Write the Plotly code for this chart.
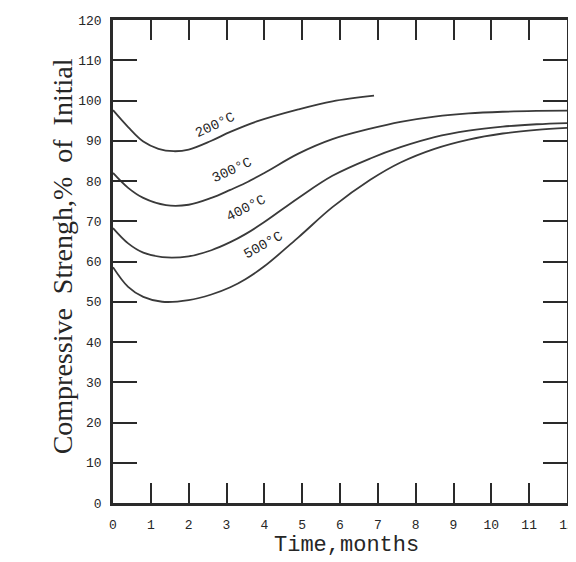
import plotly.graph_objects as go

# ---- data ----
t200 = [0, 0.4, 0.8, 1.2, 1.6, 2.0, 2.6, 3.1, 3.8, 4.9, 5.8, 6.9]
s200 = [97.6, 93.4, 89.8, 88.0, 87.4, 87.8, 90.0, 92.2, 94.8, 97.8, 99.8, 101.2]

t300 = [0, 0.4, 0.8, 1.4, 2.0, 2.6, 3.1, 3.5, 4.0, 4.9, 5.8, 6.8, 7.6, 8.5, 9.4, 10.3, 11.2, 12]
s300 = [82.0, 78.3, 75.8, 74.0, 74.1, 75.8, 77.8, 79.5, 82.0, 86.8, 90.4, 93.0, 94.7, 96.0, 96.8, 97.2, 97.4, 97.5]

t400 = [0, 0.4, 0.8, 1.3, 2.0, 2.6, 3.1, 3.5, 4.0, 4.9, 5.8, 6.8, 7.6, 8.5, 9.4, 10.3, 11.2, 12]
s400 = [68.3, 64.5, 62.2, 61.1, 61.3, 62.8, 64.8, 66.8, 69.8, 75.8, 81.3, 85.6, 88.4, 90.9, 92.5, 93.5, 94.1, 94.4]

t500 = [0, 0.4, 0.8, 1.3, 2.0, 2.6, 3.1, 3.5, 4.0, 4.9, 5.8, 6.8, 7.6, 8.5, 9.4, 10.3, 11.2, 12]
s500 = [58.6, 53.7, 51.2, 50.0, 50.4, 51.8, 53.6, 55.6, 58.8, 66.0, 73.5, 80.3, 84.6, 88.0, 90.3, 91.8, 92.7, 93.2]

series_names = ["200°C", "300°C", "400°C", "500°C"]
label_x = [2.70, 3.15, 3.52, 3.97]
label_y = [93.9, 82.7, 73.2, 64.2]
label_angle = [-25, -25, -27, -29]

x_ticks = list(range(0, 13))
y_ticks = list(range(0, 121, 10))

x_title = "Time,months"
y_title = "Compressive\u00a0 Strengh,%\u00a0 of\u00a0 Initial"

line_color = "#3a3a3a"
text_color = "#262626"

fig = go.Figure()
for t, s, name in zip([t200, t300, t400, t500], [s200, s300, s400, s500], series_names):
    fig.add_trace(go.Scatter(
        x=t, y=s, mode="lines", name=name,
        line=dict(color=line_color, width=1.8, shape="spline", smoothing=1.0),
        showlegend=False, hoverinfo="skip",
    ))

for name, lx, ly, ang in zip(series_names, label_x, label_y, label_angle):
    fig.add_annotation(
        x=lx, y=ly, xref="x", yref="y", text=name, showarrow=False,
        textangle=ang, font=dict(family="Liberation Mono", size=14, color=text_color),
    )

fig.add_annotation(
    x=0.515, y=-0.087, xref="paper", yref="paper", text=x_title, showarrow=False,
    xanchor="center", yanchor="middle",
    font=dict(family="Liberation Mono", size=22, color=text_color),
)
fig.add_annotation(
    x=-0.112, y=0.511, xref="paper", yref="paper", text=y_title, showarrow=False,
    xanchor="center", yanchor="middle", textangle=-90,
    font=dict(family="Liberation Serif", size=28, color=text_color),
)

axis_common = dict(
    showline=True, linewidth=2.5, linecolor="#2a2a2a",
    mirror="ticks", ticks="inside", tickwidth=2, tickcolor="#2a2a2a",
    showgrid=False, zeroline=False,
    tickfont=dict(family="Liberation Mono", size=13, color=text_color),
)

fig.update_xaxes(range=[0, 12], tickmode="array", tickvals=x_ticks,
                 ticktext=[str(v) for v in x_ticks], ticklen=20,
                 ticklabelstandoff=8, **axis_common)
fig.update_yaxes(range=[0, 120], tickmode="array", tickvals=y_ticks,
                 ticktext=[str(v) for v in y_ticks], ticklen=24,
                 ticklabelstandoff=6, **axis_common)

# the page body adds an 8px offset, so the figure is sized to the remaining window
fig.update_layout(
    width=568, height=554,
    margin=dict(l=105, r=9, t=12, b=59, autoexpand=False),
    paper_bgcolor="white", plot_bgcolor="white",
    showlegend=False,
)

fig.write_html("out.html")
